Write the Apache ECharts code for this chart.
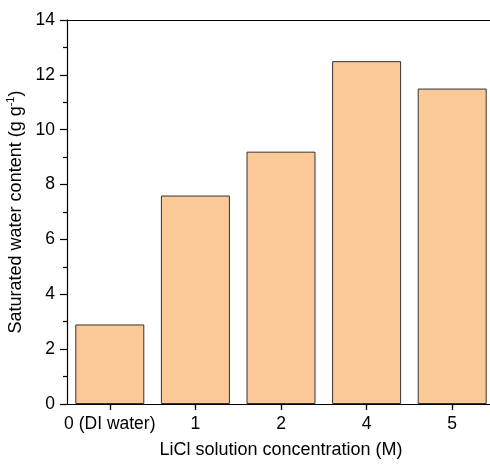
<!DOCTYPE html>
<html lang="en">
  <head>
    <meta charset="UTF-8" />
    <title>Saturated water content</title>
    <script src="https://cdn.jsdelivr.net/npm/echarts@6/dist/echarts.min.js"></script>
    <style>
      html, body { margin: 0; padding: 0; background: #fff; }
    </style>
  </head>
  <body>
    <div id="chart" style="width: 490px; height: 464px"></div>

    <script type="text/javascript">
      // data
      const categories = ["0 (DI water)", "1", "2", "4", "5"];
      const waterContent = [2.9, 7.6, 9.2, 12.5, 11.5];
      const yTicks = [0, 2, 4, 6, 8, 10, 12, 14];

      const chart = echarts.init(document.getElementById("chart"));
      const font = "Liberation Sans, Arial, sans-serif";
      const axisColor = "#000";

      let options = {
        animation: false,
        textStyle: { fontFamily: font },
        grid: { left: 67, top: 20, bottom: 60, right: -5, outerBoundsMode: "none", containLabel: false },
        xAxis: [
          {
            type: "category",
            data: categories,
            position: "bottom",
            name: "LiCl solution concentration (M)",
            nameLocation: "middle",
            nameGap: 37,
            nameTextStyle: { fontSize: 18, color: "#000", fontFamily: font },
            axisLine: { show: true, onZero: false, lineStyle: { color: axisColor, width: 1.2 } },
            axisTick: { show: true, alignWithLabel: true, interval: 0, length: 6, lineStyle: { color: "#000", width: 1.2 } },
            axisLabel: { interval: 0, fontSize: 17.5, color: "#000", margin: 11, fontFamily: font },
          },
          {
            // top frame line
            type: "value",
            position: "top",
            min: 0,
            max: 1,
            axisLine: { show: true, onZero: false, lineStyle: { color: axisColor, width: 1.2 } },
            axisTick: { show: false },
            axisLabel: { show: false },
            splitLine: { show: false },
          },
          {
            // second copy of the categories, shifted down, ticks pointing up to the axis
            type: "category",
            data: categories,
            position: "bottom",
            offset: 6,
            axisLine: { show: false, onZero: false },
            axisTick: { show: true, inside: true, alignWithLabel: true, interval: 0, length: 6, lineStyle: { color: "#000", width: 1.2 } },
            axisLabel: { show: false },
            splitLine: { show: false },
          },
        ],
        yAxis: [
          {
            type: "value",
            min: yTicks[0],
            max: yTicks[yTicks.length - 1],
            interval: 2,
            name: "Saturated water content (g g{sup|-1})",
            nameLocation: "middle",
            nameGap: 36,
            nameTextStyle: {
              fontSize: 18,
              color: "#000",
              fontFamily: font,
              rich: {
                sup: { fontSize: 11, verticalAlign: "top", padding: [0, 0, 9, 0], color: "#000", fontFamily: font },
              },
            },
            axisLine: { show: true, lineStyle: { color: axisColor, width: 1.2 } },
            axisTick: { show: true, length: 7, lineStyle: { color: axisColor, width: 1.2 } },
            minorTick: { show: true, splitNumber: 2, length: 4, lineStyle: { color: axisColor, width: 1.2 } },
            splitLine: { show: false },
            axisLabel: { fontSize: 17.5, color: "#000", margin: 12, fontFamily: font },
          },
          {
            // right frame line
            type: "value",
            position: "right",
            min: 0,
            max: 14,
            interval: 2,
            axisLine: { show: true, lineStyle: { color: axisColor, width: 1.2 } },
            axisTick: { show: false },
            axisLabel: { show: false },
            splitLine: { show: false },
          },
        ],
        series: [
          {
            type: "bar",
            xAxisIndex: 0,
            yAxisIndex: 0,
            data: waterContent,
            barWidth: 69,
            itemStyle: {
              color: "#fbc898",
              borderColor: "#333",
              borderWidth: 1,
            },
          },
        ],
      };

      chart.setOption(options);
    </script>
  </body>
</html>
